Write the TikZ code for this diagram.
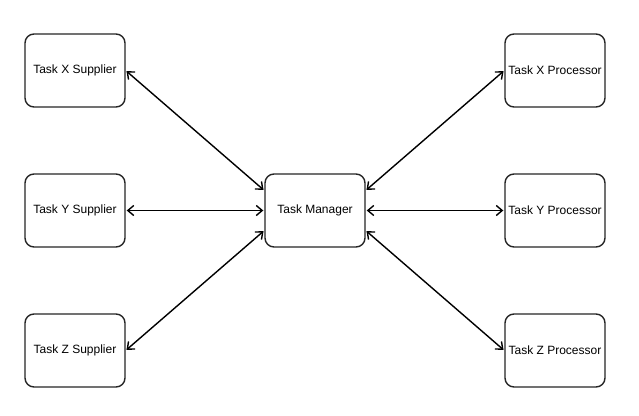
\documentclass[tikz,border=0pt]{standalone}
\usepackage{fontspec}
\setmainfont{Liberation Sans}
\usetikzlibrary{arrows.meta}
\begin{document}
\begin{tikzpicture}[x=1pt,y=-1pt,
  task/.style={draw=black!85, line width=1.4pt, rounded corners=9pt, fill=white,
    minimum width=100pt, minimum height=73pt, inner sep=0pt,
    font=\fontsize{12}{14}\selectfont},
  link/.style={line width=1.4pt, {Straight Barb[length=6pt,width=10pt,line width=1.4pt]}-{Straight Barb[length=6pt,width=10pt,line width=1.4pt]}, shorten <=1pt, shorten >=1pt}]
\useasboundingbox (0,0) rectangle (639,415);
\fill[white] (0,0) rectangle (639,415);
% suppliers
\node[task] (xs) at (75,70.5) {Task X Supplier};
\node[task] (ys) at (75,210.5) {Task Y Supplier};
\node[task] (zs) at (75,350.5) {Task Z Supplier};
% manager
\node[task] (tm) at (315,210.5) {Task Manager};
% processors
\node[task] (xp) at (555,70.5) {Task X Processor};
\node[task] (yp) at (555,210.5) {Task Y Processor};
\node[task] (zp) at (555,350.5) {Task Z Processor};
% connectors (yshift is in page units: positive is upward)
\draw[link] (xs.east) -- ([yshift=20pt]tm.west);
\draw[link] (ys.east) -- (tm.west);
\draw[link] (zs.east) -- ([yshift=-20pt]tm.west);
\draw[link] ([yshift=20pt]tm.east) -- (xp.west);
\draw[link] (tm.east) -- (yp.west);
\draw[link] ([yshift=-20pt]tm.east) -- (zp.west);
\end{tikzpicture}
\end{document}
